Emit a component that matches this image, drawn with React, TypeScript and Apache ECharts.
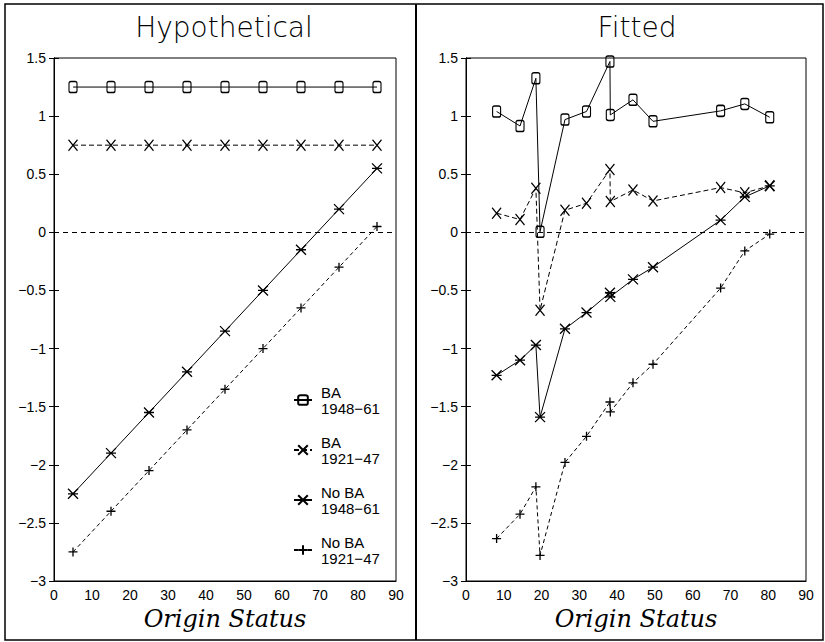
import React, { useEffect, useRef } from "react";
import * as echarts from "echarts";

// ---------- data ----------
const hypX = [5, 15, 25, 35, 45, 55, 65, 75, 85];
const hypBA4861 = [1.25, 1.25, 1.25, 1.25, 1.25, 1.25, 1.25, 1.25, 1.25];
const hypBA2147 = [0.75, 0.75, 0.75, 0.75, 0.75, 0.75, 0.75, 0.75, 0.75];
const hypNoBA4861 = [-2.25, -1.9, -1.55, -1.2, -0.85, -0.5, -0.15, 0.2, 0.55];
const hypNoBA2147 = [-2.75, -2.4, -2.05, -1.7, -1.35, -1.0, -0.65, -0.3, 0.05];

const fitX = [8.1, 14.3, 18.5, 19.6, 26.2, 31.9, 38.1, 38.2, 44.2, 49.5, 67.4, 73.8, 80.4];
const fitBA4861 = [1.04, 0.915, 1.325, 0.005, 0.97, 1.04, 1.47, 1.01, 1.14, 0.955, 1.045, 1.105, 0.99];
const fitBA2147 = [0.165, 0.11, 0.38, -0.67, 0.19, 0.25, 0.54, 0.265, 0.365, 0.27, 0.385, 0.34, 0.4];
const fitNoBA4861 = [-1.23, -1.1, -0.97, -1.59, -0.83, -0.69, -0.52, -0.555, -0.405, -0.3, 0.105, 0.305, 0.4];
const fitNoBA2147 = [-2.635, -2.425, -2.19, -2.78, -1.98, -1.755, -1.46, -1.545, -1.295, -1.135, -0.48, -0.16, -0.015];

const seriesNames = ["BA\n1948−61", "BA\n1921−47", "No BA\n1948−61", "No BA\n1921−47"];
const panelTitles = ["Hypothetical", "Fitted"];
const xTitle = "Origin Status";

// ---------- styles ----------
const SYM_O = "path://M2,0 L6,0 Q8,0 8,2 L8,10 Q8,12 6,12 L2,12 Q0,12 0,10 L0,2 Q0,0 2,0 Z";
const SYM_X = "path://M0,0 L10,12 M10,0 L0,12";
const SYM_STAR = "path://M0,0 L10,10 M10,0 L0,10 M0,5 L10,5";
const SYM_PLUS = "path://M5,0 L5,10 M0,5 L10,5";

const seriesStyles = [
  { symbol: SYM_O, size: [8, 11], dash: "solid" as any },
  { symbol: SYM_X, size: [9, 11], dash: [5, 3] as any },
  { symbol: SYM_STAR, size: [10, 10], dash: "solid" as any },
  { symbol: SYM_PLUS, size: [9, 9], dash: [4, 3] as any },
];

const pairs = (xs: number[], ys: number[]) => xs.map((x, i) => [x, ys[i]]);

export default function App() {
  const ref = useRef<HTMLDivElement>(null);
  useEffect(() => {
    if (!ref.current) return;
    const chart = echarts.init(ref.current, null, { renderer: "svg" });
    const fmtY = (v: number) => String(v).replace("-", "−");
    const labelFont = { fontFamily: "Liberation Sans", fontSize: 14, color: "#000" };

    const mkX = (gridIndex: number) => ({
      type: "value",
      gridIndex,
      min: 0,
      max: 90,
      interval: 10,
      axisLine: { show: true, onZero: false, lineStyle: { color: "#000", width: 1 } },
      axisTick: { show: false },
      splitLine: { show: false },
      axisLabel: { ...labelFont, margin: 7 },
      name: xTitle,
      nameLocation: "middle",
      nameGap: 24,
      nameTextStyle: {
        fontFamily: "DejaVu Serif",
        fontStyle: "italic",
        fontSize: 24,
        color: "#000",
      },
    });
    const mkY = (gridIndex: number, inner: boolean) => ({
      type: "value",
      gridIndex,
      position: "left",
      min: -3,
      max: 1.5,
      interval: 0.5,
      axisLine: { show: true, onZero: false, lineStyle: { color: "#000", width: 1 } },
      axisTick: { show: true, inside: inner, length: 5, lineStyle: { color: "#000" } },
      splitLine: { show: false },
      axisLabel: inner ? { show: false } : { ...labelFont, margin: 8, formatter: fmtY },
    });

    const ys = [
      [hypBA4861, hypBA2147, hypNoBA4861, hypNoBA2147],
      [fitBA4861, fitBA2147, fitNoBA4861, fitNoBA2147],
    ];
    const xs = [hypX, fitX];
    const series: any[] = [];
    for (let g = 0; g < 2; g++) {
      for (let s = 0; s < 4; s++) {
        const st = seriesStyles[s];
        series.push({
          type: "line",
          name: seriesNames[s],
          xAxisIndex: g,
          yAxisIndex: g * 2,
          data: pairs(xs[g], ys[g][s]),
          symbol: st.symbol,
          symbolSize: st.size,
          showAllSymbol: true,
          lineStyle: { color: "#000", width: 1, type: st.dash },
          itemStyle: { color: "rgba(0,0,0,0)", borderColor: "#000", borderWidth: 1.3 },
          emphasis: { disabled: true },
          markLine:
            s === 0
              ? {
                  silent: true,
                  symbol: ["none", "none"],
                  label: { show: false },
                  lineStyle: { color: "#000", width: 1, type: [5, 4] },
                  data: [{ yAxis: 0 }],
                }
              : undefined,
        });
      }
    }

    chart.setOption({
      animation: false,
      grid: [
        { left: 54, top: 58, width: 342, height: 523, show: true, borderColor: "#000", borderWidth: 1, backgroundColor: "transparent" },
        { left: 466, top: 58, width: 340, height: 523, show: true, borderColor: "#000", borderWidth: 1, backgroundColor: "transparent" },
      ],
      xAxis: [mkX(0), mkX(1)],
      yAxis: [mkY(0, false), mkY(0, true), mkY(1, false), mkY(1, true)],
      legend: {
        orient: "vertical",
        left: 293,
        top: 376,
        padding: 0,
        itemGap: 2,
        itemWidth: 18,
        itemHeight: 12,
        selectedMode: false,
        data: seriesNames,
        textStyle: {
          fontFamily: "Liberation Sans",
          fontSize: 15,
          lineHeight: 16,
          color: "#000",
          padding: [16, 0, 0, 4],
        },
      },
      graphic: [
        { type: "rect", shape: { x: 5, y: 4, width: 818, height: 636 }, style: { fill: "none", stroke: "#000", lineWidth: 1.5 }, silent: true },
        { type: "line", shape: { x1: 416, y1: 4, x2: 416, y2: 640 }, style: { stroke: "#000", lineWidth: 2 }, silent: true },
        {
          type: "text",
          x: 224,
          y: 27,
          style: { text: panelTitles[0], textAlign: "center", textVerticalAlign: "middle", fontFamily: "DejaVu Sans", fontWeight: "lighter", fontSize: 28, fill: "#000" },
        },
        {
          type: "text",
          x: 637,
          y: 27,
          style: { text: panelTitles[1], textAlign: "center", textVerticalAlign: "middle", fontFamily: "DejaVu Sans", fontWeight: "lighter", fontSize: 28, fill: "#000" },
        },
      ],
      series,
    });
    return () => chart.dispose();
  }, []);
  return <div ref={ref} style={{ width: 825, height: 642, position: "absolute", left: 0, top: 0 }} />;
}
